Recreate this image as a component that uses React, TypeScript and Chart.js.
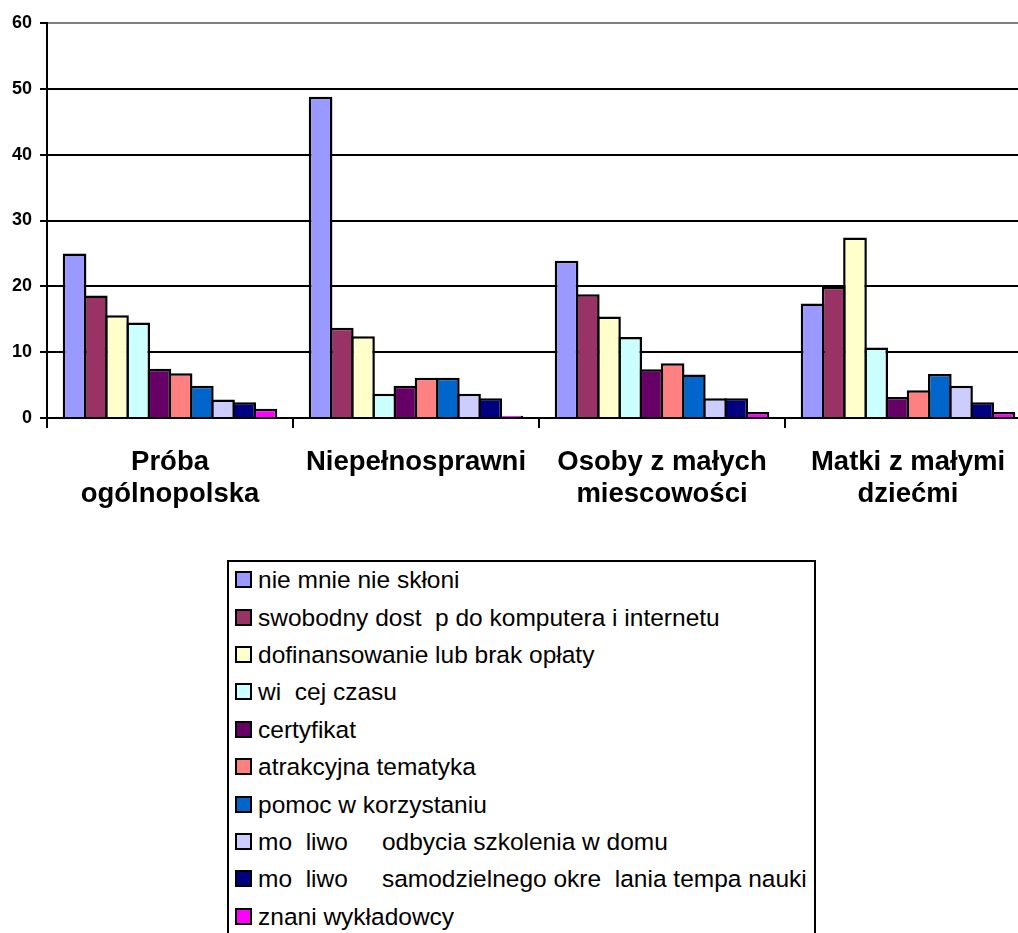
import React, { useEffect, useRef } from 'react';
import { Chart, registerables } from 'chart.js';

Chart.register(...registerables);

const FONT = '"Liberation Sans", Arial, Helvetica, sans-serif';

const categories: string[][] = [
  ['Próba', 'ogólnopolska'],
  ['Niepełnosprawni'],
  ['Osoby z małych', 'miescowości'],
  ['Matki z małymi', 'dziećmi'],
];

const seriesNames = [
  'nie mnie nie skłoni',
  'swobodny dost  p do komputera i internetu',
  'dofinansowanie lub brak opłaty',
  'wi  cej czasu',
  'certyfikat',
  'atrakcyjna tematyka',
  'pomoc w korzystaniu',
  'mo  liwo     odbycia szkolenia w domu',
  'mo  liwo     samodzielnego okre  lania tempa nauki',
  'znani wykładowcy',
];

const seriesColors = [
  '#9999FF',
  '#993366',
  '#FFFFCC',
  '#CCFFFF',
  '#660066',
  '#FF8080',
  '#0066CC',
  '#CCCCFF',
  '#000080',
  '#FF00FF',
];

const nieMnieNieSkloni = [25.0, 48.8, 23.9, 17.4];
const swobodnyDostep = [18.6, 13.7, 18.8, 19.9];
const dofinansowanie = [15.6, 12.4, 15.4, 27.4];
const wiecejCzasu = [14.5, 3.7, 12.3, 10.7];
const certyfikat = [7.5, 4.9, 7.4, 3.2];
const atrakcyjnaTematyka = [6.8, 6.1, 8.3, 4.2];
const pomocWKorzystaniu = [4.9, 6.1, 6.6, 6.7];
const odbycieWDomu = [2.8, 3.7, 3.0, 4.9];
const tempoNauki = [2.4, 3.0, 3.0, 2.4];
const znaniWykladowcy = [1.4, 0.35, 0.9, 0.9];

const seriesValues = [
  nieMnieNieSkloni,
  swobodnyDostep,
  dofinansowanie,
  wiecejCzasu,
  certyfikat,
  atrakcyjnaTematyka,
  pomocWKorzystaniu,
  odbycieWDomu,
  tempoNauki,
  znaniWykladowcy,
];

const yTicks = [0, 10, 20, 30, 40, 50, 60];

export default function App() {
  const canvasRef = useRef<HTMLCanvasElement | null>(null);

  useEffect(() => {
    if (!canvasRef.current) return;
    const chart = new Chart(canvasRef.current, {
      type: 'bar',
      data: {
        labels: categories,
        datasets: seriesNames.map((name, i) => ({
          label: name,
          data: seriesValues[i],
          backgroundColor: seriesColors[i],
          borderColor: '#000000',
          borderWidth: 2.5,
          barPercentage: 1.118,
          categoryPercentage: 0.862,
        })),
      },
      options: {
        animation: false,
        responsive: false,
        maintainAspectRatio: false,
        layout: { padding: { top: 23, left: 0, right: 0, bottom: 0 } },
        plugins: {
          legend: { display: false },
          tooltip: { enabled: false },
          title: { display: false },
        },
        scales: {
          x: {
            grid: {
              display: true,
              drawOnChartArea: false,
              drawTicks: true,
              tickLength: 10,
              color: '#000000',
              lineWidth: 2,
              offset: true,
            },
            border: { display: true, color: '#000000', width: 2 },
            ticks: {
              color: '#000000',
              autoSkip: false,
              maxRotation: 0,
              minRotation: 0,
              padding: 18,
              font: { family: FONT, size: 27.5, weight: 'bold', lineHeight: '32px' },
            },
            afterFit: (s: any) => {
              s.height = 122;
            },
          },
          y: {
            min: 0,
            max: 60,
            afterBuildTicks: (s: any) => {
              s.ticks = yTicks.map((v) => ({ value: v }));
            },
            ticks: {
              color: '#000000',
              padding: 8,
              font: { family: FONT, size: 18, weight: 'bold' },
            },
            grid: {
              color: (ctx: any) => (ctx.tick && ctx.tick.value === 60 ? '#808080' : '#000000'),
              tickColor: '#000000',
              lineWidth: 2,
              tickLength: 7,
            },
            border: { display: true, color: '#000000', width: 2 },
            afterFit: (s: any) => {
              s.width = 47;
            },
          },
        },
      },
    } as any);
    return () => chart.destroy();
  }, []);

  return (
    <div
      style={{
        position: 'absolute',
        left: 0,
        top: 0,
        width: 1018,
        height: 933,
        overflow: 'hidden',
        background: '#ffffff',
      }}
    >
      <div style={{ position: 'absolute', left: 0, top: 0, width: 1031, height: 540 }}>
        <canvas ref={canvasRef} width={1031} height={540} style={{ width: 1031, height: 540, display: 'block' }} />
      </div>
      <div
        style={{
          position: 'absolute',
          left: 227,
          top: 560,
          width: 589,
          height: 420,
          border: '2px solid #000000',
          boxSizing: 'border-box',
          fontFamily: FONT,
          fontSize: 24.5,
          color: '#000000',
          background: '#ffffff',
        }}
      >
        <div style={{ marginTop: -1 }}>
          {seriesNames.map((name, i) => (
            <div key={i} style={{ height: 37.4, display: 'flex', alignItems: 'center' }}>
              <span
                style={{
                  display: 'inline-block',
                  width: 17,
                  height: 17,
                  boxSizing: 'border-box',
                  border: '2px solid #000000',
                  background: seriesColors[i],
                  marginLeft: 6,
                  marginRight: 6,
                  flex: 'none',
                }}
              />
              <span style={{ whiteSpace: 'pre', lineHeight: '37px' }}>{name}</span>
            </div>
          ))}
        </div>
      </div>
    </div>
  );
}
